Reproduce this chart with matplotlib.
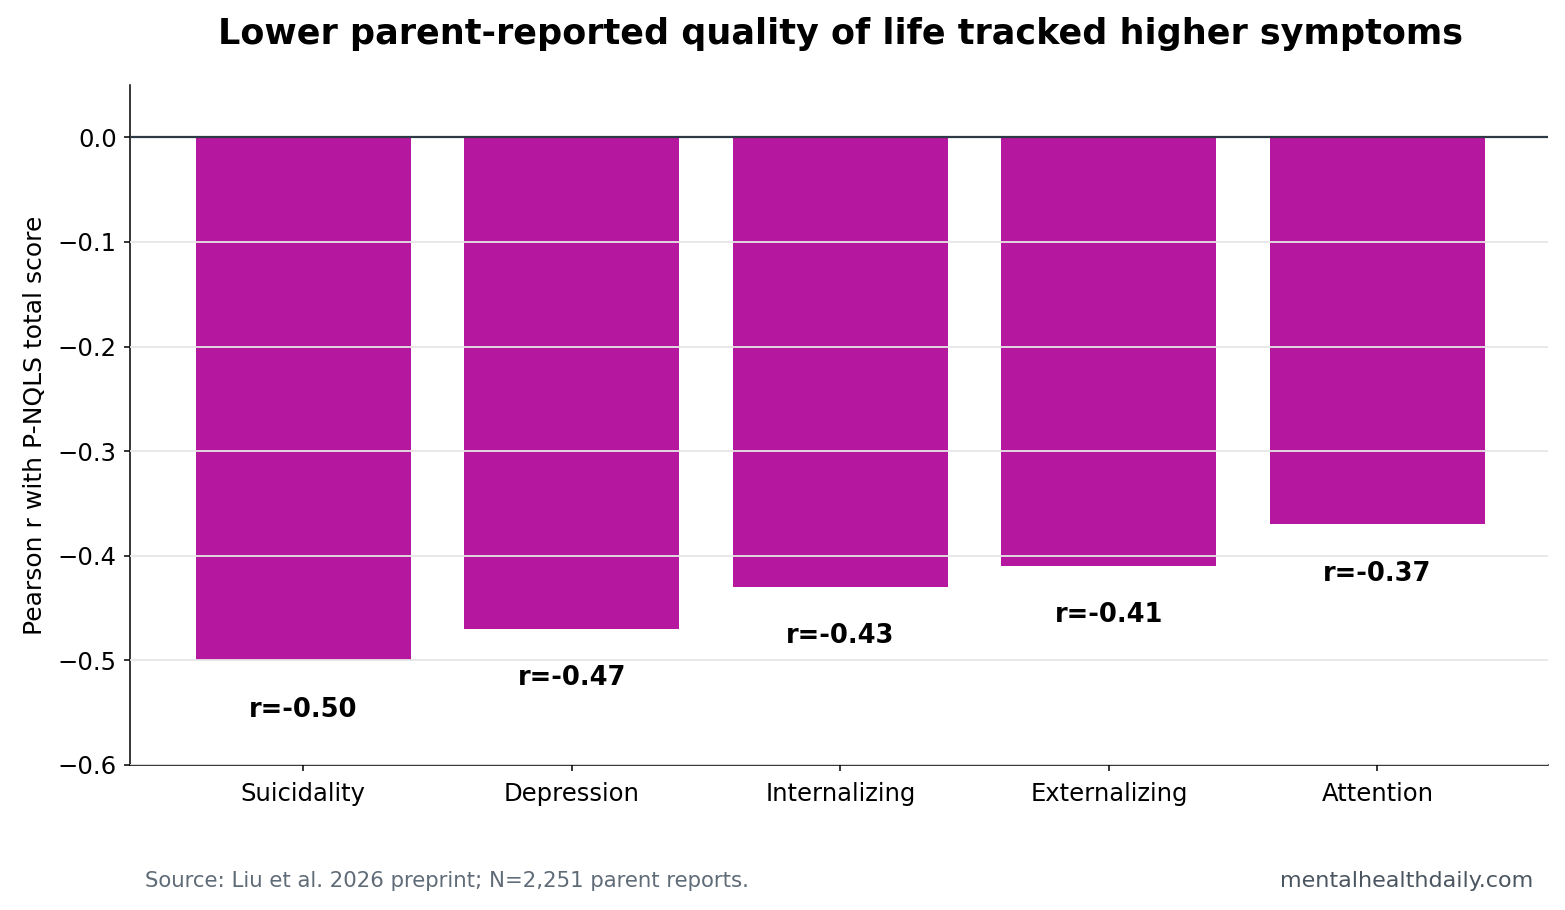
import matplotlib
matplotlib.use("Agg")
import matplotlib.pyplot as plt

categories = ["Suicidality", "Depression", "Internalizing", "Externalizing", "Attention"]
values = [-0.50, -0.47, -0.43, -0.41, -0.37]
labels = ["r=-0.50", "r=-0.47", "r=-0.43", "r=-0.41", "r=-0.37"]

fig = plt.figure(figsize=(15.65, 9.1), dpi=100)
ax = fig.add_axes([130/1565, 1-765/910, (1548-130)/1565, (765-85)/910])

x = range(len(categories))
ax.bar(x, values, width=0.8, color="#b5179e", zorder=2)
ax.axhline(0, color="#2d3a45", linewidth=1.6, zorder=4)
ax.set_ylim(-0.6, 0.05)
ax.set_xlim(-0.645, 4.635)
ax.set_yticks([-0.6, -0.5, -0.4, -0.3, -0.2, -0.1, 0.0])
ax.yaxis.grid(True, color="#e6e6e6", linewidth=1.3, zorder=3)
ax.set_axisbelow(False)
ax.set_xticks(list(x))
ax.set_xticklabels(categories)
ax.tick_params(axis="both", labelsize=17.5, length=4.5, width=1.1)
ax.tick_params(axis="x", pad=8)
ax.tick_params(axis="y", pad=5)
for s in ["left", "bottom"]:
    ax.spines[s].set_linewidth(1.1)
ax.spines["top"].set_visible(False)
ax.spines["right"].set_visible(False)
ax.set_ylabel("Pearson r with P-NQLS total score", fontsize=18, labelpad=8)

for xi, v, lab in zip(x, values, labels):
    ax.text(xi, v - 0.047, lab, ha="center", va="center", fontsize=18.5, fontweight="bold", zorder=5)

fig.suptitle("Lower parent-reported quality of life tracked higher symptoms",
             x=(218+1462)/2/1565, y=1-34/910, va="center", fontsize=25.2, fontweight="bold")
fig.text(145/1565, 1-881/910, "Source: Liu et al. 2026 preprint; N=2,251 parent reports.",
         fontsize=15.3, color="#5f6b77", va="center", ha="left")
fig.text(1533/1565, 1-881/910, "mentalhealthdaily.com", fontsize=16, color="#4a5560",
         va="center", ha="right")

fig.savefig("out.png", dpi=100)
